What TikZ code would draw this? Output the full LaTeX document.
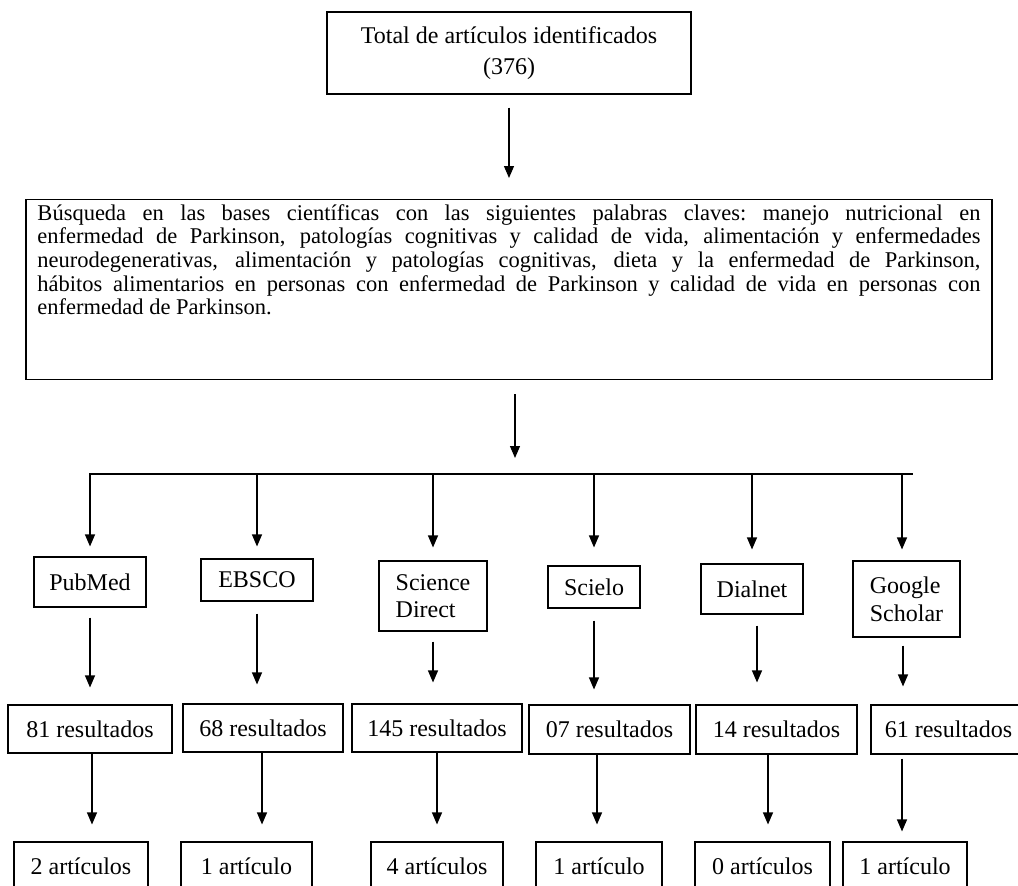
\documentclass[tikz,border=0pt]{standalone}
\usepackage{fontspec}
\setmainfont{Liberation Serif}
\usetikzlibrary{arrows.meta}
\newcommand\jline[1]{\hbox to 943pt{\spaceskip=0.2em plus 1fil\xspaceskip=\spaceskip #1}}
\begin{document}
\begin{tikzpicture}[x=1pt,y=-1pt,
  box/.style={draw, line width=1.1pt, inner sep=0pt, font=\fontsize{24}{27.6}\selectfont},
  arr/.style={line width=1.2pt, -{Triangle[width=10pt,length=12pt]}},
  lin/.style={line width=1.2pt}]
\useasboundingbox (0,0) rectangle (1018,886);
\clip (0,0) rectangle (1018,886);
\fill[white] (0,0) rectangle (1018,886);

% top boxes
\node[box, minimum width=364pt, minimum height=82pt, align=center] (top) at (509,53)
  {Total de artículos identificados\\[4pt](376)};
\node[box, inner xsep=11.5pt, inner ysep=4pt, anchor=north] (search) at (509,199)
  {\vbox to 172pt{\fontsize{22.5}{23.6}\selectfont
   \vskip 1pt
   \jline{Búsqueda en las bases científicas con las siguientes palabras claves: manejo nutricional en}
   \jline{enfermedad de Parkinson, patologías cognitivas y calidad de vida, alimentación y enfermedades}
   \jline{neurodegenerativas, alimentación y patologías cognitivas, dieta y la enfermedad de Parkinson,}
   \jline{hábitos alimentarios en personas con enfermedad de Parkinson y calidad de vida en personas con}
   \hbox to 943pt{enfermedad de Parkinson.\hfil}
   \vfil}};

% databases
\node[box, minimum width=112pt, minimum height=50pt] (pub) at (90,582) {PubMed};
\node[box, minimum width=112pt, minimum height=42pt] (ebs) at (257,580) {EBSCO};
\node[box, minimum width=108pt, minimum height=70pt, align=left] (sd) at (433,596) {Science\\Direct};
\node[box, minimum width=92pt, minimum height=42pt] (sci) at (594,587) {Scielo};
\node[box, minimum width=102pt, minimum height=50pt] (dia) at (752,589) {Dialnet};
\node[box, minimum width=107pt, minimum height=76pt, align=left] (goo) at (906.5,599) {Google\\Scholar};

% results
\node[box, minimum width=164pt, minimum height=48pt] (r81) at (90,729) {81 resultados};
\node[box, minimum width=160pt, minimum height=48pt] (r68) at (263,728) {68 resultados};
\node[box, minimum width=170pt, minimum height=48pt] (r145) at (437,728) {145 resultados};
\node[box, minimum width=161pt, minimum height=49pt] (r07) at (609.5,729.5) {07 resultados};
\node[box, minimum width=161pt, minimum height=49pt] (r14) at (776.5,729.5) {14 resultados};
\node[box, minimum width=155pt, minimum height=49pt] (r61) at (948.5,729.5) {61 resultados};

% articles
\node[box, minimum width=134pt, minimum height=48pt] (c2) at (81,866) {2 artículos};
\node[box, minimum width=131pt, minimum height=48pt] (c1a) at (246.5,866) {1 artículo};
\node[box, minimum width=132pt, minimum height=48pt] (c4) at (437,866) {4 artículos};
\node[box, minimum width=126pt, minimum height=48pt] (c1b) at (599,866) {1 artículo};
\node[box, minimum width=135pt, minimum height=48pt] (c0) at (762.5,866) {0 artículos};
\node[box, minimum width=124pt, minimum height=48pt] (c1c) at (905,866) {1 artículo};

% connectors
\draw[arr] ([yshift=-13pt]top.south) -- ([yshift=21pt]search.north);
\coordinate (busL) at (89,474);
\coordinate (busR) at (913,474);
\coordinate (a2top) at ([xshift=6pt,yshift=-14pt]search.south);
\coordinate (a2end) at (a2top |- busL);
\draw[arr, shorten >=16pt] (a2top) -- (a2end);
\draw[lin] (busL) -- (busR);

\draw[arr] (pub.north |- busL) -- ([yshift=10pt]pub.north);
\draw[arr] (ebs.north |- busL) -- ([yshift=12pt]ebs.north);
\draw[arr] (sd.north |- busL) -- ([yshift=13pt]sd.north);
\draw[arr] (sci.north |- busL) -- ([yshift=18pt]sci.north);
\draw[arr] (dia.north |- busL) -- ([yshift=14pt]dia.north);
\coordinate (gx) at ([xshift=-4.5pt]goo.north);
\draw[arr] (gx |- busL) -- ([yshift=11pt]gx);

\draw[arr, shorten <=10pt, shorten >=17pt] (pub.south) -- (pub.south |- r81.north);
\draw[arr, shorten <=12pt, shorten >=19pt] (ebs.south) -- (ebs.south |- r68.north);
\draw[arr, shorten <=10pt, shorten >=21pt] (sd.south) -- (sd.south |- r145.north);
\draw[arr, shorten <=12pt, shorten >=15pt] (sci.south) -- (sci.south |- r07.north);
\coordinate (dx) at ([xshift=5pt]dia.south);
\draw[arr, shorten <=11pt, shorten >=22pt] (dx) -- (dx |- r14.north);
\coordinate (gx2) at ([xshift=-3.5pt]goo.south);
\draw[arr, shorten <=8pt, shorten >=18pt] (gx2) -- (gx2 |- r61.north);

\coordinate (e81) at ([xshift=2pt]r81.south);
\draw[arr, shorten >=17pt] (e81) -- (e81 |- c2.north);
\coordinate (e68) at ([xshift=-1pt]r68.south);
\draw[arr, shorten >=17pt] (e68) -- (e68 |- c1a.north);
\draw[arr, shorten >=17pt] (r145.south) -- (r145.south |- c4.north);
\coordinate (e07) at ([xshift=-12.5pt]r07.south);
\draw[arr, shorten >=17pt] (e07) -- (e07 |- c1b.north);
\coordinate (e14) at ([xshift=-8.5pt]r14.south);
\draw[arr, shorten >=17pt] (e14) -- (e14 |- c0.north);
\coordinate (e61) at ([xshift=-46.5pt]r61.south);
\draw[arr, shorten <=4pt, shorten >=10pt] (e61) -- (e61 |- c1c.north);
\end{tikzpicture}
\end{document}
